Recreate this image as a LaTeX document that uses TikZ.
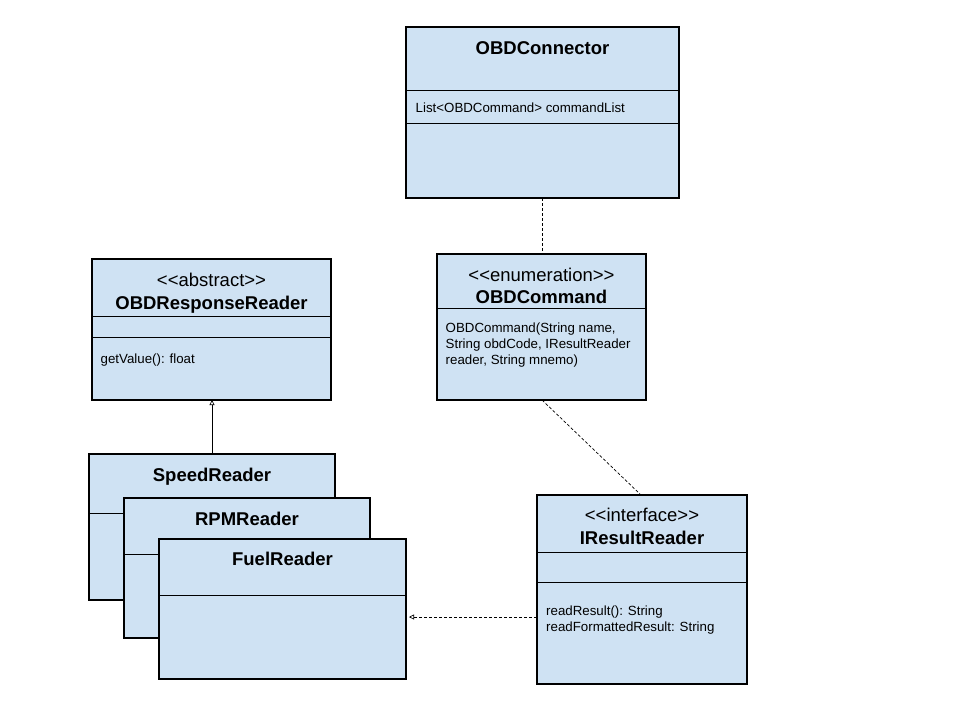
\documentclass[tikz,border=0pt]{standalone}
\usepackage{fontspec}
\setmainfont{Liberation Sans}[Ligatures=TeXOff]
\usetikzlibrary{arrows.meta}
\definecolor{boxblue}{HTML}{CFE2F3}
\tikzset{
  cls/.style={draw=black, fill=boxblue, line width=1.1pt},
  sep/.style={draw=black, line width=0.9pt},
  big/.style={font=\fontsize{18.5}{22}\selectfont, anchor=base, inner sep=0pt},
  bigb/.style={font=\fontsize{18.5}{22}\selectfont\bfseries, anchor=base, inner sep=0pt},
  small/.style={font=\fontsize{13.3}{16}\selectfont, anchor=base west, inner sep=0pt},
  conn/.style={draw=black, line width=0.7pt},
  dashline/.style={dash pattern=on 3pt off 2pt},
  tri/.style={-{Triangle[open, length=5pt, width=5pt, line width=0.6pt]}},
}
\begin{document}
\begin{tikzpicture}[x=1pt, y=-1pt]
\useasboundingbox (0,0) rectangle (960,720);

% OBDConnector
\draw[cls] (406,27) rectangle (679,198);
\draw[sep] (406,90) -- (679,90);
\draw[sep] (406,123) -- (679,123);
\node[bigb] (conName) at (542.5,54.3) {OBDConnector};
\node[small] (conAttr) at (415.5,112) {List<OBDCommand> commandList};
\coordinate (conBot) at (542,198);

% OBDCommand
\draw[cls] (437,254) rectangle (646,400);
\draw[sep] (437,308) -- (646,308);
\node[big] (cmdSt) at (541.5,281) {<<enumeration>>};
\node[bigb] (cmdName) at (541.5,303.5) {OBDCommand};
\node[small] (cmdOp1) at (445.5,332.7) {OBDCommand(String name,};
\node[small] (cmdOp2) at (445.5,348.7) {String obdCode, IResultReader};
\node[small] (cmdOp3) at (445.5,364.7) {reader, String mnemo)};
\coordinate (cmdTop) at (542,254);
\coordinate (cmdBot) at (542,400);

% IResultReader
\draw[cls] (537,495) rectangle (747,684);
\draw[sep] (537,552) -- (747,552);
\draw[sep] (537,582) -- (747,582);
\node[big] (irSt) at (642,521.7) {<<interface>>};
\node[bigb] (irName) at (642,544) {IResultReader};
\node[small] (irOp1) at (546,615) {readResult(): String};
\node[small] (irOp2) at (546,631) {readFormattedResult: String};
\coordinate (irTop) at (641,495);
\coordinate (irLeft) at (537,617);

% OBDResponseReader
\draw[cls] (92,259) rectangle (331,400);
\draw[sep] (92,316) -- (331,316);
\draw[sep] (92,337) -- (331,337);
\node[big] (orSt) at (211.5,286) {<<abstract>>};
\node[bigb] (orName) at (211.5,309) {OBDResponseReader};
\node[small] (orOps) at (100.5,363) {getValue(): float};
\coordinate (orBot) at (212,400);

% SpeedReader
\draw[cls] (89,454) rectangle (335,600);
\draw[sep] (89,513) -- (335,513);
\node[bigb] (spName) at (212,481.7) {SpeedReader};
\coordinate (spTop) at (212,454);

% RPMReader
\draw[cls] (124,498) rectangle (370,638);
\draw[sep] (124,554) -- (370,554);
\node[bigb] (rpmName) at (247,525) {RPMReader};

% FuelReader
\draw[cls] (159,539) rectangle (406,679);
\draw[sep] (159,595) -- (406,595);
\node[bigb] (fuName) at (282.5,565.7) {FuelReader};
\coordinate (fuRight) at (409,617);

% connectors
\draw[conn, dashline] (conBot) -- (cmdTop);
\draw[conn, dashline] (cmdBot) -- (irTop);
\draw[conn, tri] (spTop) -- (orBot);
\draw[conn, dashline, tri] (irLeft) -- (fuRight);
\end{tikzpicture}
\end{document}
